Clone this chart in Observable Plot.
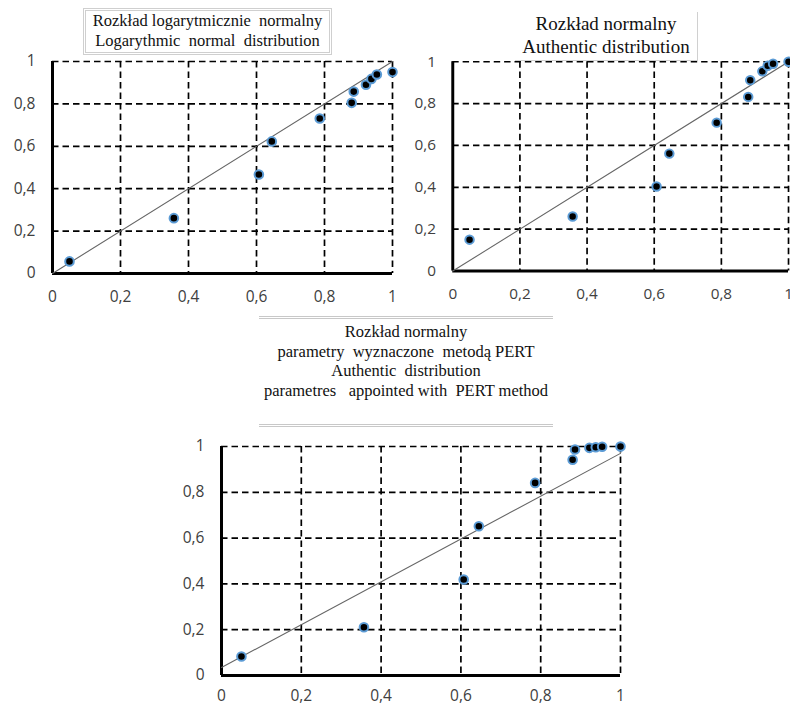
<!DOCTYPE html>
<html>
<head>
<meta charset="utf-8">
<script src="https://cdn.jsdelivr.net/npm/d3@7"></script>
<script src="https://cdn.jsdelivr.net/npm/@observablehq/plot@0.6"></script>
<style>
  html, body { margin: 0; padding: 0; background: #fff; }
  body { width: 790px; height: 705px; position: relative; overflow: hidden; }
  .panel { position: absolute; }
  .title { position: absolute; font-family: "Liberation Serif", "Times New Roman", serif; color: #111; text-align: center; white-space: pre; }
</style>
</head>
<body>
<div id="p2" class="panel" style="left:395px; top:0px; width:395px; height:310px; overflow:hidden;"></div>
<div id="p1" class="panel" style="left:0px; top:0px;"></div>
<div id="p3" class="panel" style="left:150px; top:400px;"></div>

<div class="title" style="left:83px; top:8px; width:243px; height:41px; border:3px double #cfcfcf; font-size:16.5px; line-height:19.5px; padding-top:0px;">Rozkład logarytmicznie  normalny
Logarythmic  normal  distribution</div>

<div class="title" style="left:515px; top:12px; width:182px; height:48px; border-right:1px solid #d0d0d0; border-bottom:1px solid #d0d0d0; font-size:19px; line-height:23px;">Rozkład normalny
Authentic distribution</div>

<div style="position:absolute; left:259px; top:316px; width:294px; height:1px; border-top:3px double #c8c8c8;"></div>
<div style="position:absolute; left:259px; top:424px; width:294px; height:1px; border-top:3px double #c8c8c8;"></div>
<div class="title" style="left:259px; top:322px; width:294px; font-size:16.5px; line-height:19.7px;">Rozkład normalny
parametry  wyznaczone  metodą PERT
Authentic  distribution
parametres   appointed with  PERT method</div>

<script>
const empirical = [0.05, 0.357, 0.607, 0.645, 0.786, 0.88, 0.886, 0.922, 0.938, 0.954, 1.0];
const logNormalY = [0.057, 0.261, 0.467, 0.623, 0.731, 0.805, 0.858, 0.89, 0.918, 0.939, 0.95];
const normalY = [0.15, 0.261, 0.404, 0.561, 0.709, 0.832, 0.912, 0.954, 0.981, 0.99, 1.0];
const pertY = [0.083, 0.211, 0.419, 0.652, 0.841, 0.942, 0.987, 0.994, 0.997, 0.999, 1.0];

// Reference lines (start/end)
const diagX = [0, 1];
const diagY = [0, 1];
const pertLineX = [0, 1];
const pertLineY = [0.035, 0.97];

const ticks = [0, 0.2, 0.4, 0.6, 0.8, 1];
const gridTicks = [0.2, 0.4, 0.6, 0.8, 1];
const fmt = d => String(d).replace(".", ",");

function panel(ys, lx, ly, opts) {
  const pts = empirical.map((x, i) => ({x, y: ys[i]}));
  const line = lx.map((x, i) => ({x, y: ly[i]}));
  return Plot.plot({
    width: opts.width, height: opts.height,
    marginLeft: opts.ml, marginRight: opts.mr, marginTop: opts.mt, marginBottom: opts.mb,
    x: {domain: [0, 1], ticks},
    y: {domain: [0, 1], ticks},
    style: {fontFamily: "'Open Sans', sans-serif", fontSize: "15.5px", color: "#404040", background: "transparent", overflow: "visible"},
    marks: [
      Plot.ruleX(gridTicks, {stroke: "#000", strokeWidth: 1.7, strokeDasharray: "6.5,4"}),
      Plot.ruleY(gridTicks, {stroke: "#000", strokeWidth: 1.7, strokeDasharray: "6.5,4"}),
      Plot.ruleX([0], {stroke: "#000", strokeWidth: 3}),
      Plot.ruleY([0], {stroke: "#000", strokeWidth: 3}),
      Plot.axisX({ticks, tickSize: 0, tickPadding: opts.xpad, tickFormat: fmt, label: null, fill: "#404040", fontSize: 15.5}),
      Plot.axisY({ticks, tickSize: 0, tickPadding: 17, tickFormat: fmt, label: null, fill: "#404040", fontSize: 15.5}),
      Plot.line(line, {x: "x", y: "y", stroke: "#666", strokeWidth: 1.1}),
      Plot.dot(pts, {x: "x", y: "y", r: 4.3, fill: "#000", stroke: "#5b9bd5", strokeWidth: 2})
    ]
  });
}

document.getElementById("p1").appendChild(panel(logNormalY, diagX, diagY,
  {width: 400, height: 310, ml: 52, mr: 8, mt: 61, mb: 37, xpad: 17}));
document.getElementById("p2").appendChild(panel(normalY, diagX, diagY,
  {width: 400, height: 310, ml: 58, mr: 2, mt: 62, mb: 36, xpad: 17}));
document.getElementById("p3").appendChild(panel(pertY, pertLineX, pertLineY,
  {width: 490, height: 305, ml: 71, mr: 20, mt: 46, mb: 30, xpad: 14}));
</script>
</body>
</html>
